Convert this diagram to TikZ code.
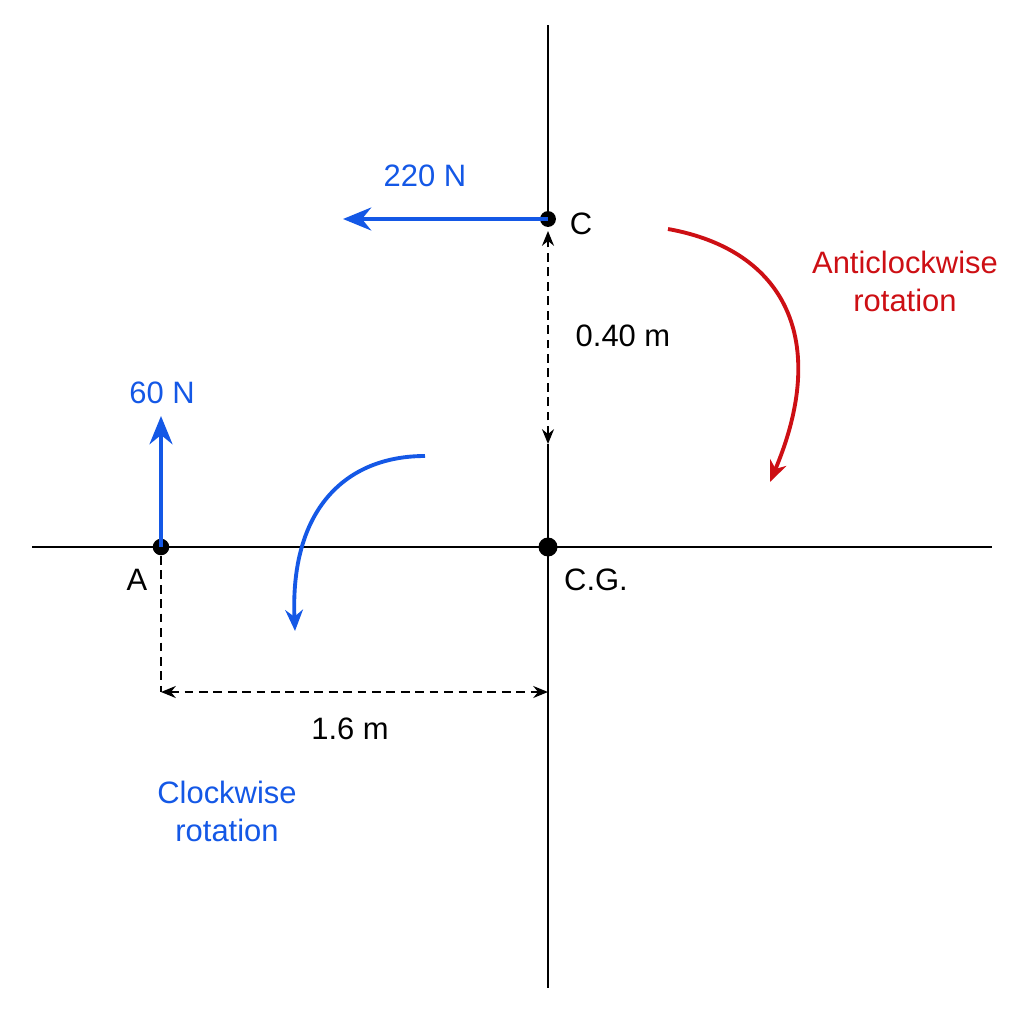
\documentclass[tikz,border=0pt]{standalone}
\usepackage{fontspec}
\setmainfont{Liberation Sans}
\usetikzlibrary{arrows.meta}
\definecolor{forceblue}{RGB}{20,88,230}
\definecolor{turnred}{RGB}{205,15,20}

\begin{document}
\begin{tikzpicture}[x=0.01cm,y=-0.01cm,
	axis/.style={black,line width=0.6pt},
	force/.style={forceblue,line width=1.2pt,-{Stealth[length=8pt,width=6.5pt]}},
	turn/.style={line width=1.1pt,-{Stealth[length=6pt,width=5pt]}},
	dashline/.style={black,line width=0.6pt,dash pattern=on 2.5pt off 1.6pt},
	dim/.style={dashline,{Stealth[length=4.2pt,width=3.4pt]}-{Stealth[length=4.2pt,width=3.4pt]}},
	pt/.style={circle,fill=black,inner sep=0pt,minimum size=4.7pt},
	lbl/.style={font=\fontsize{8.8}{10.8}\selectfont,inner sep=0pt,align=center}]
	\useasboundingbox (0,0) rectangle (1024,1024);
	% points
	\node[pt] (A) at (161,547) {};
	\node[pt,minimum size=5.4pt] (G) at (548,547) {};
	\node[pt,minimum size=4.5pt] (C) at (548,219) {};
	\node[lbl] (Alab) at (137,580) {A};
	\node[lbl] (Glab) at (596,580) {C.G.};
	\node[lbl] (Clab) at (581,224) {C};
	% axes
	\coordinate (xl) at (32,547);
	\coordinate (xr) at (992,547);
	\coordinate (yt) at (548,25);
	\coordinate (yb) at (548,988);
	\coordinate (d1) at (548,231);
	\coordinate (d2) at (548,444);
	\draw[axis] (xl) -- (xr);
	\draw[axis] (yt) -- (C.center);
	\draw[axis] (d2) -- (yb);
	% forces
	\coordinate (F60) at (161,416);
	\coordinate (F220) at (343,219);
	\draw[force] (A.center) -- (F60);
	\draw[force] (C.center) -- (F220);
	\node[lbl,text=forceblue] (l60) at (162,393) {60 N};
	\node[lbl,text=forceblue] (l220) at (425,176) {220 N};
	% distances
	\draw[dim] (d2) -- (d1);
	\node[lbl] (h) at (623,336) {0.40 m};
	\coordinate (a1) at (161,556);
	\coordinate (a2) at (161,692);
	\coordinate (g2) at (548,692);
	\draw[dashline] (a1) -- (a2);
	\draw[dim] (a2) -- (g2);
	\node[lbl] (w) at (350,729) {1.6 m};
	% rotations
	\coordinate (r1) at (668,229);
	\coordinate (r2) at (770,482);
	\draw[turn,turnred] (r1) .. controls (785,250) and (830,340) .. (r2);
	\node[lbl,text=turnred] (rlab) at (905,281) {Anticlockwise\\rotation};
	\coordinate (b1) at (425,456);
	\coordinate (b2) at (295,631);
	\draw[turn,forceblue] (b1) .. controls (345,456) and (290,510) .. (b2);
	\node[lbl,text=forceblue] (blab) at (227,811) {Clockwise\\rotation};
\end{tikzpicture}
\end{document}
